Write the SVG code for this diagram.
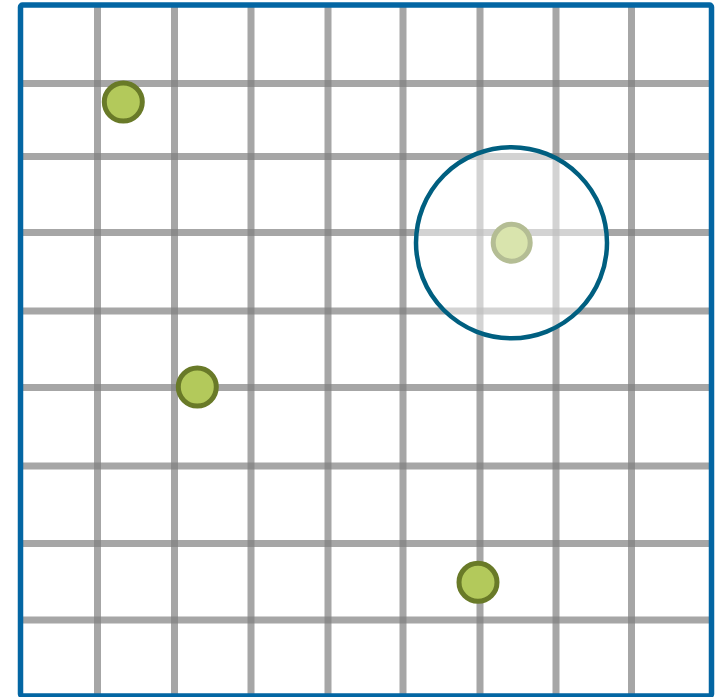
<svg xmlns="http://www.w3.org/2000/svg" width="727" height="697" viewBox="0 0 727 697">
<style>
.grid line{stroke:#808080;stroke-opacity:0.7;stroke-width:7}
.dot{fill:#b3c95b;stroke:#697a28;stroke-width:5}
</style>
<rect x="0" y="0" width="727" height="697" fill="#ffffff"/>
<g id="grid" class="grid">
<line x1="97.5" y1="5" x2="97.5" y2="696"/>
<line x1="174.5" y1="5" x2="174.5" y2="696"/>
<line x1="251" y1="5" x2="251" y2="696"/>
<line x1="328" y1="5" x2="328" y2="696"/>
<line x1="403" y1="5" x2="403" y2="696"/>
<line x1="480" y1="5" x2="480" y2="696"/>
<line x1="556" y1="5" x2="556" y2="696"/>
<line x1="631.5" y1="5" x2="631.5" y2="696"/>
<line x1="20.5" y1="83.5" x2="711.5" y2="83.5"/>
<line x1="20.5" y1="156.5" x2="711.5" y2="156.5"/>
<line x1="20.5" y1="232.5" x2="711.5" y2="232.5"/>
<line x1="20.5" y1="311" x2="711.5" y2="311"/>
<line x1="20.5" y1="387.5" x2="711.5" y2="387.5"/>
<line x1="20.5" y1="466" x2="711.5" y2="466"/>
<line x1="20.5" y1="543.5" x2="711.5" y2="543.5"/>
<line x1="20.5" y1="620" x2="711.5" y2="620"/>
</g>
<g id="dot1"><circle class="dot" cx="123.3" cy="102" r="19"/></g>
<g id="dot2"><circle class="dot" cx="197.3" cy="387" r="19"/></g>
<g id="dot3"><circle class="dot" cx="478" cy="582.3" r="19"/></g>
<g id="dot4"><circle class="dot" cx="511.7" cy="242.7" r="18.5"/></g>
<g id="range"><circle cx="511.5" cy="242.75" r="95.5" fill="#ffffff" fill-opacity="0.5" stroke="#005f80" stroke-width="4.5"/></g>
<g id="frame"><rect x="20.5" y="5" width="691" height="691" rx="2" fill="none" stroke="#0366a3" stroke-width="5.5"/></g>
</svg>
